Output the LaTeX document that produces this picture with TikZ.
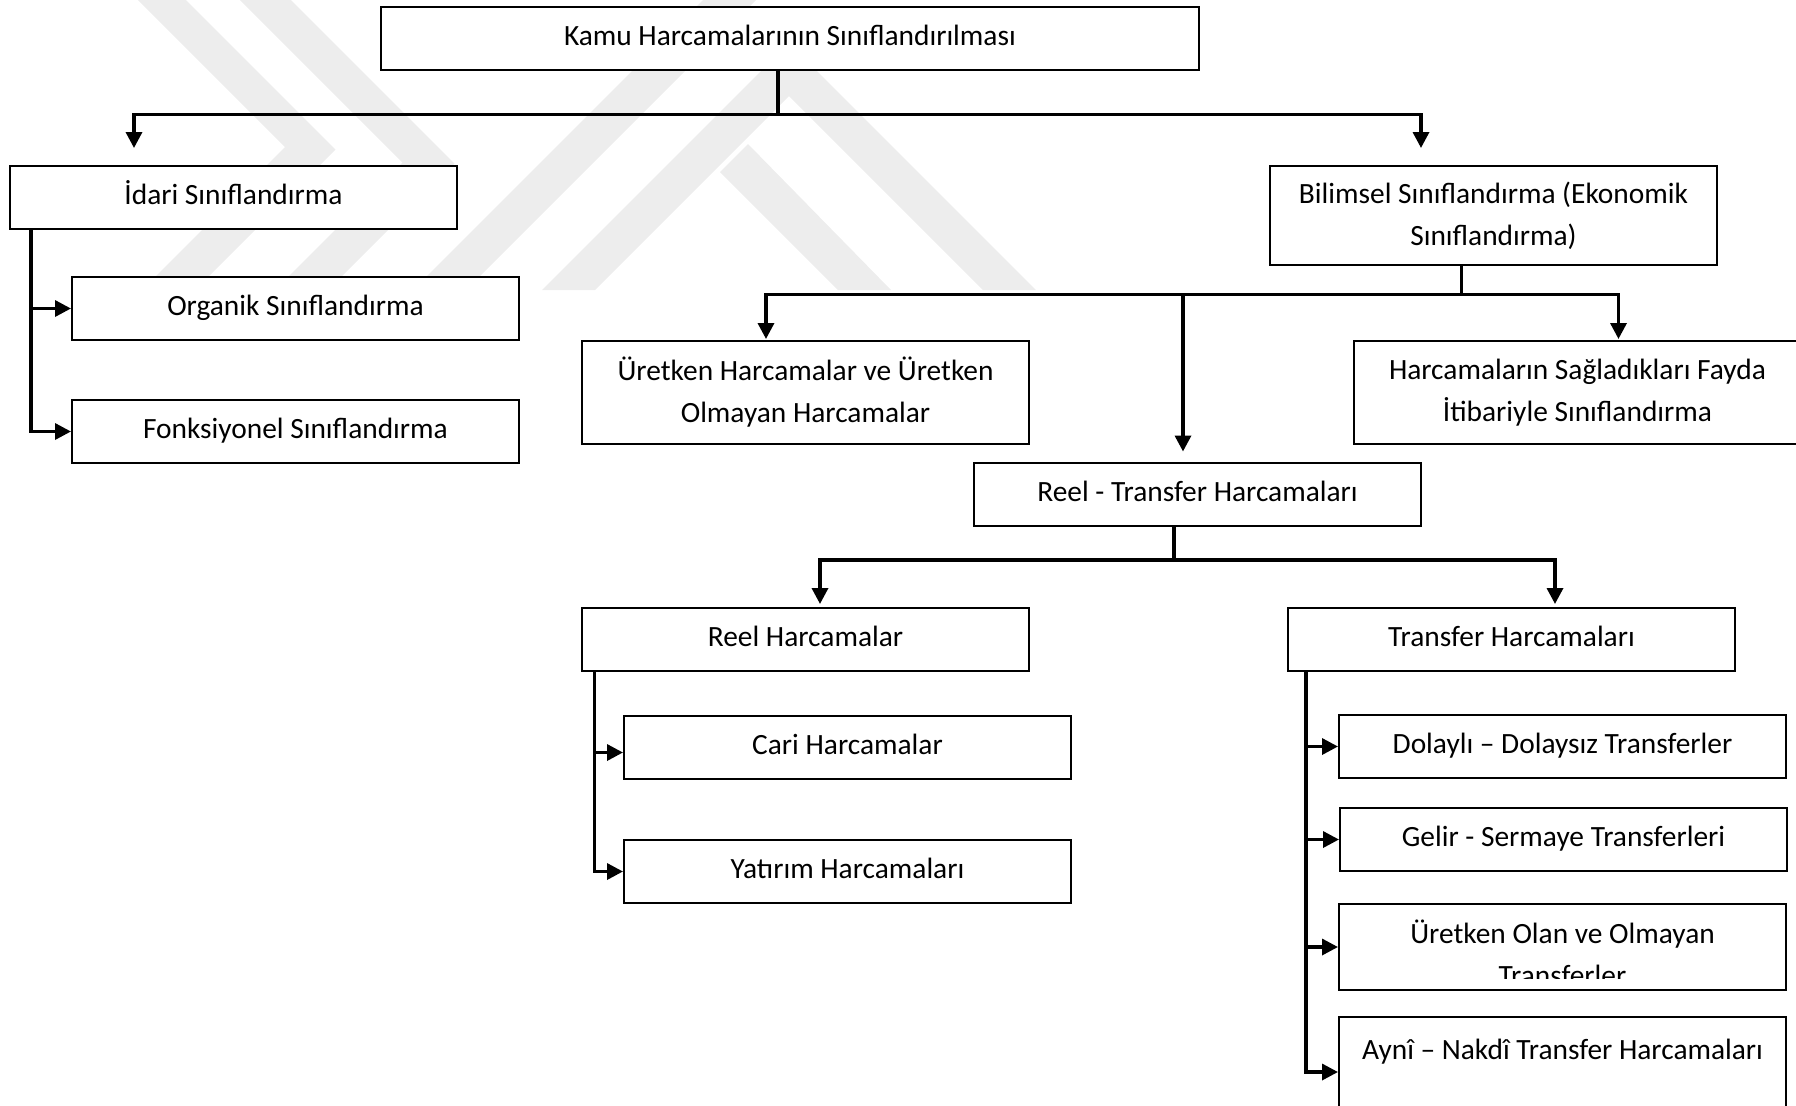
\documentclass[tikz,border=0pt]{standalone}
\usepackage{fontspec}
\setmainfont{Carlito}
\usetikzlibrary{arrows.meta,calc}
\tikzset{
  box/.style={draw, line width=1pt, fill=white, inner sep=0pt, align=center,
    minimum width=223.5pt, minimum height=31.5pt,
    font=\fontsize{14.7pt}{21pt}\selectfont},
  one/.style={text height=10.7pt, text depth=3.5pt},
  tall/.style={minimum height=51.5pt},
  conn/.style={line width=1.7pt},
  arr/.style={conn, -{Triangle[length=8pt,width=8pt]}},
  wm/.style={fill=black!7, draw=none},
  txt/.style={align=center, inner sep=0pt, font=\fontsize{14.7pt}{21pt}\selectfont}
}
\begin{document}
\begin{tikzpicture}[x=0.5pt,y=-0.5pt]
\useasboundingbox (0,0) rectangle (1796,1105);
\clip (0,0) rectangle (1796,1105);
% watermark (faint emblem behind the chart)
\begin{scope}
\clip (0,0) rectangle (1796,291);
\fill[wm] (138,0) -- (186,0) -- (335.5,149.5) -- (195,290) -- (142,290) -- (285,147) -- cycle;
\fill[wm] (240,0) -- (291,0) -- (454.5,163.5) -- (328,290) -- (275,290) -- (402.5,162.5) -- cycle;
\fill[wm] (703,0) -- (756,0) -- (466,290) -- (413,290) -- cycle;
\fill[wm] (789,43) -- (1036,290) -- (983,290) -- (789,96) -- (595,290) -- (542,290) -- cycle;
\fill[wm] (720,172) -- (748,144) -- (891,290) -- (838,290) -- cycle;
\end{scope}
% boxes
\node[box, one, minimum width=409pt] (top) at (790,38.5) {Kamu Harcamalarının Sınıflandırılması};
\node[box, one] (idari) at (233.5,197.5) {İdari Sınıflandırma};
\node[box, minimum height=49.5pt] (bilim) at (1493.5,215.5) {Bilimsel Sınıflandırma (Ekonomik\\Sınıflandırma)};
\node[box, one] (organik) at (295.5,308.5) {Organik Sınıflandırma};
\node[box, one] (fonk) at (295.5,431.5) {Fonksiyonel Sınıflandırma};
\node[box, tall] (uretken) at (805.5,392.5) {Üretken Harcamalar ve Üretken\\Olmayan Harcamalar};
\node[box, tall] (fayda) at (1577.5,392.5) {Harcamaların Sağladıkları Fayda\\İtibariyle Sınıflandırma};
\node[box, one] (rt) at (1197.5,494.5) {Reel - Transfer Harcamaları};
\node[box, one] (reel) at (805.5,639.5) {Reel Harcamalar};
\node[box, one] (transfer) at (1511.5,639.5) {Transfer Harcamaları};
\node[box, one] (cari) at (847.5,747) {Cari Harcamalar};
\node[box, one] (yatirim) at (847.5,871.5) {Yatırım Harcamaları};
\node[box, one] (dolayli) at (1562.5,746.5) {Dolaylı – Dolaysız Transferler};
\node[box, one] (gelir) at (1563.5,839.5) {Gelir - Sermaye Transferleri};
\node[box, minimum height=43pt] (uolan) at (1562.5,947) {};
\begin{scope}
\clip ($(uolan.south west)+(0,-13)$) rectangle (uolan.north east);
\node[txt] (uolantext) at (1562.5,953) {Üretken Olan ve Olmayan\\Transferler};
\end{scope}
\node[box, tall] (ayni) at (1562.5,1068.5) {};
\node[txt, one] (aynitext) at (1562.5,1052.5) {Aynî – Nakdî Transfer Harcamaları};
% connectors
\coordinate (j0) at (778,114.5);
\draw[conn] (top.south -| j0) -- (j0);
\draw[arr] (j0) -| ($(idari.north)+(-99.5,-17)$);
\draw[arr] (j0) -| ($(bilim.north)+(-72.5,-17)$);
\draw[arr] ($(idari.south west)+(22,0)$) |- (organik.west);
\draw[arr] ($(idari.south west)+(22,0)$) |- (fonk.west);
\coordinate (j1) at (1461.5,294.4);
\draw[conn] (bilim.south -| j1) -- (j1);
\draw[arr] (j1) -| ($(uretken.north)+(-39.5,-1)$);
\draw[arr] (j1) -| ($(fayda.north)+(41,-1)$);
\coordinate (m1) at ($(rt.north)+(-14.5,-10.5)$);
\draw[arr] (m1 |- j1) -- (m1);
\coordinate (j2) at (1174,560);
\draw[conn] (rt.south -| j2) -- (j2);
\draw[arr] (j2) -| ($(reel.north)+(14.5,-3)$);
\draw[arr] (j2) -| ($(transfer.north)+(43.5,-3)$);
\draw[arr] ($(reel.south west)+(13.6,0)$) |- ($(cari.west)+(0,5.5)$);
\draw[arr] ($(reel.south west)+(13.6,0)$) |- (yatirim.west);
\draw[arr] ($(transfer.south west)+(19,0)$) |- (dolayli.west);
\draw[arr] ($(transfer.south west)+(19,0)$) |- (gelir.west);
\draw[arr] ($(transfer.south west)+(19,0)$) |- (uolan.west);
\draw[arr] ($(transfer.south west)+(19,0)$) |- ($(ayni.west)+(0,3.5)$);
\end{tikzpicture}
\end{document}
